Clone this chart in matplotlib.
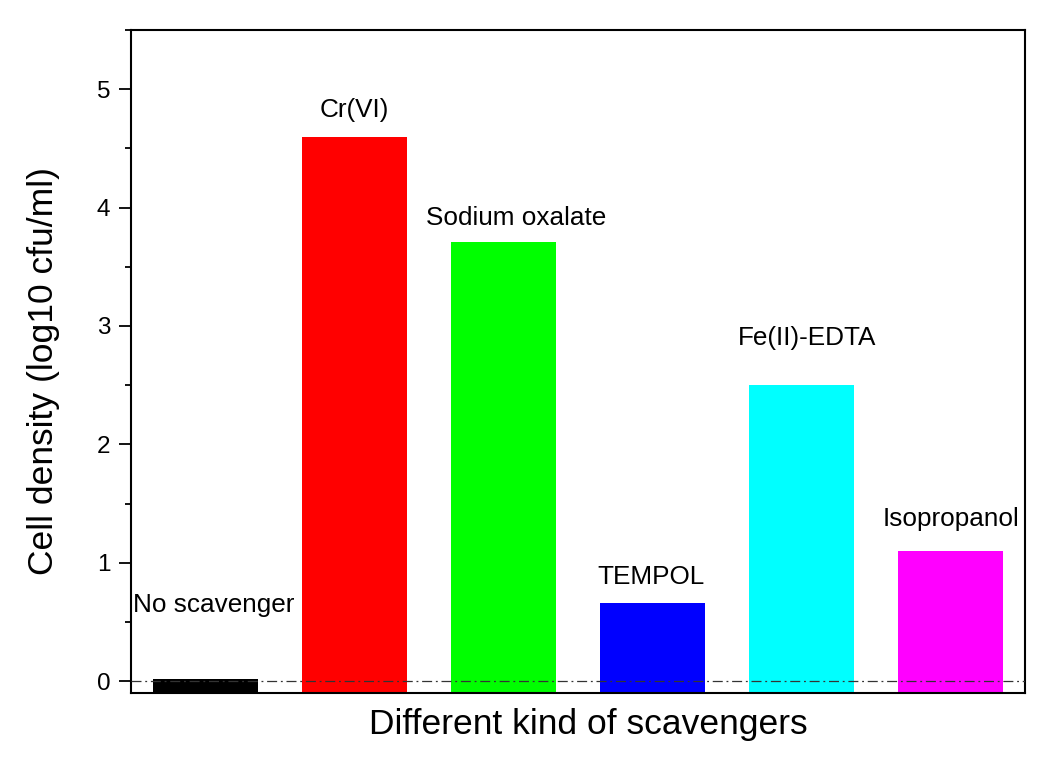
import matplotlib
matplotlib.use("Agg")
import matplotlib.pyplot as plt
from matplotlib.ticker import MultipleLocator

plt.rcParams['font.family'] = ['Liberation Sans', 'DejaVu Sans']

# Cell density after treatment with each scavenger
scavengers = ["No scavenger", "Cr(VI)", "Sodium oxalate", "TEMPOL", "Fe(II)-EDTA", "Isopropanol"]
density = [0.02, 4.60, 3.71, 0.66, 2.50, 1.10]
colors = ["#000000", "#ff0000", "#00ff00", "#0000ff", "#00ffff", "#ff00ff"]

# label offsets above each bar top (points)
label_dx = [6, 0, 9, -1, 4, 0]
label_dy = [48, 14, 12, 14, 29, 18]

ymin, ymax = -0.1, 5.5

fig = plt.figure(figsize=(10.44, 7.57), dpi=100)
ax = fig.add_axes([0.1255, 0.0845, 0.8563, 0.8759])

x = list(range(len(scavengers)))
heights = [v - ymin for v in density]
ax.bar(x, heights, bottom=ymin, width=0.71, color=colors, zorder=2)

ax.axhline(0, color="#333333", lw=0.9, ls=(0, (8, 3, 1.5, 3)), zorder=3)

for xi, name, v, dx, dy in zip(x, scavengers, density, label_dx, label_dy):
    ax.annotate(name, (xi, v), xytext=(dx, dy), textcoords="offset points",
                ha="center", va="baseline", fontsize=18.8)

ax.set_xlim(-0.5, len(scavengers) - 0.5)
ax.set_ylim(ymin, ymax)
ax.yaxis.set_major_locator(MultipleLocator(1))
ax.yaxis.set_minor_locator(MultipleLocator(0.5))
ax.set_xticks([])
ax.tick_params(axis="y", which="major", direction="out", length=9, width=1.3,
               labelsize=17.5, pad=6)
ax.tick_params(axis="y", which="minor", direction="out", length=4, width=1.3)
for s in ax.spines.values():
    s.set_linewidth(1.5)

ax.set_xlabel("Different kind of scavengers", fontsize=25.5)
ax.set_ylabel("Cell density (log10 cfu/ml)", fontsize=25.5)
ax.xaxis.set_label_coords(0.512, -0.022)
ax.xaxis.label.set_verticalalignment("top")
ax.yaxis.set_label_coords(-0.079, 0.485)

fig.savefig("out.png", dpi=100, facecolor="white")
